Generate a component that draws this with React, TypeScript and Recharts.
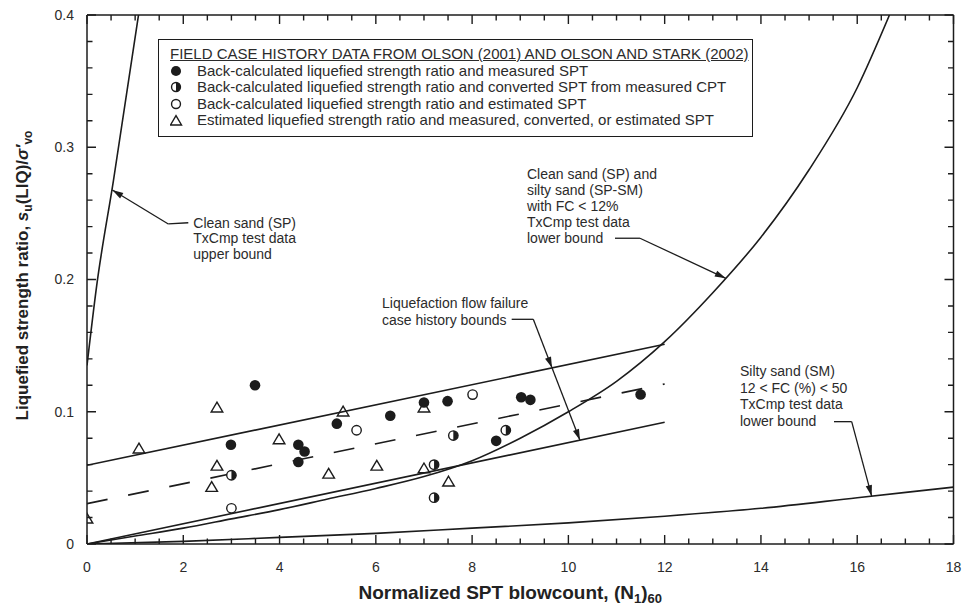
import React from "react";
import {
  ComposedChart,
  Line,
  Scatter,
  XAxis,
  YAxis,
  ReferenceLine,
  ReferenceDot,
  Legend,
} from "recharts";

const FONT = "'Liberation Sans', Arial, Helvetica, sans-serif";
const INK = "#1c1c1c";
const TEXT = "#2b2b2b";

// axis ticks
const xTicks = [0, 0.5, 1, 1.5, 2, 2.5, 3, 3.5, 4, 4.5, 5, 5.5, 6, 6.5, 7, 7.5, 8, 8.5, 9, 9.5, 10, 10.5, 11, 11.5, 12, 12.5, 13, 13.5, 14, 14.5, 15, 15.5, 16, 16.5, 17, 17.5, 18];
const xTickLabels = [0, 2, 4, 6, 8, 10, 12, 14, 16, 18];
const yTicks = [0, 0.02, 0.04, 0.06, 0.08, 0.1, 0.12, 0.14, 0.16, 0.18, 0.2, 0.22, 0.24, 0.26, 0.28, 0.3, 0.32, 0.34, 0.36, 0.38, 0.4];
const yTickLabels = [0, 0.1, 0.2, 0.3, 0.4];

// field case histories (Olson 2001, Olson & Stark 2002)
const backCalcMeasuredSpt = [
  { x: 2.99, y: 0.075 }, { x: 3.49, y: 0.12 }, { x: 4.39, y: 0.075 }, { x: 4.52, y: 0.07 },
  { x: 4.39, y: 0.062 }, { x: 5.19, y: 0.091 }, { x: 6.3, y: 0.097 }, { x: 7.0, y: 0.107 },
  { x: 7.49, y: 0.108 }, { x: 8.5, y: 0.078 }, { x: 9.02, y: 0.111 }, { x: 9.21, y: 0.109 },
  { x: 11.5, y: 0.113 },
];
const backCalcConvertedSpt = [
  { x: 3.0, y: 0.052 }, { x: 7.21, y: 0.06 }, { x: 7.21, y: 0.035 }, { x: 7.61, y: 0.082 },
  { x: 8.7, y: 0.086 },
];
const backCalcEstimatedSpt = [
  { x: 3.0, y: 0.027 }, { x: 5.6, y: 0.086 }, { x: 8.01, y: 0.113 },
];
const estimatedRatioSpt = [
  { x: 0, y: 0.019 }, { x: 1.08, y: 0.072 }, { x: 2.7, y: 0.103 }, { x: 2.7, y: 0.059 },
  { x: 2.59, y: 0.043 }, { x: 3.99, y: 0.079 }, { x: 5.32, y: 0.1 }, { x: 5.02, y: 0.053 },
  { x: 6.02, y: 0.059 }, { x: 7.0, y: 0.057 }, { x: 7.51, y: 0.047 }, { x: 7.0, y: 0.103 },
];

// bound curves
const txcmpCleanUpper = [
  { x: 0, y: 0.135 }, { x: 0.2, y: 0.195 }, { x: 0.55, y: 0.275 }, { x: 1.07, y: 0.4 },
];
const txcmpCleanLower = [
  { x: 0, y: 0 }, { x: 1, y: 0.006 }, { x: 2, y: 0.012 }, { x: 3, y: 0.019 }, { x: 4, y: 0.026 },
  { x: 5, y: 0.034 }, { x: 6, y: 0.042 }, { x: 7, y: 0.051 }, { x: 8, y: 0.063 }, { x: 9, y: 0.08 },
  { x: 10, y: 0.1 }, { x: 11, y: 0.123 }, { x: 12, y: 0.153 }, { x: 13, y: 0.19 }, { x: 14, y: 0.232 },
  { x: 15, y: 0.283 }, { x: 16, y: 0.345 }, { x: 16.67, y: 0.4 },
];
const txcmpSiltyLower = [
  { x: 0, y: 0 }, { x: 2, y: 0.002 }, { x: 4, y: 0.005 }, { x: 6, y: 0.008 }, { x: 8, y: 0.012 },
  { x: 10, y: 0.016 }, { x: 12, y: 0.021 }, { x: 14, y: 0.027 }, { x: 16, y: 0.035 }, { x: 18, y: 0.043 },
];
const caseHistoryUpper = [{ x: 0, y: 0.0595 }, { x: 12, y: 0.151 }];
const caseHistoryMid = [{ x: 0, y: 0.0305 }, { x: 12, y: 0.121 }];
const caseHistoryLower = [{ x: 0, y: 0 }, { x: 12, y: 0.092 }];

const legendTitle = "FIELD CASE HISTORY DATA FROM OLSON (2001) AND OLSON AND STARK (2002)";
const legendRows = [
  { kind: "filled", text: "Back-calculated liquefied strength ratio and measured SPT" },
  { kind: "half", text: "Back-calculated liquefied strength ratio and converted SPT from measured CPT" },
  { kind: "open", text: "Back-calculated liquefied strength ratio and estimated SPT" },
  { kind: "triangle", text: "Estimated liquefied strength ratio and measured, converted, or estimated SPT" },
];

// callout text, anchored at first line
const notes = [
  { x: 2.208, y: 0.2427, step: 15.5, lines: ["Clean sand (SP)", "TxCmp test data", "upper bound"] },
  { x: 9.14, y: 0.2798, step: 16, lines: ["Clean sand (SP) and", "silty sand (SP-SM)", "with FC < 12%", "TxCmp test data", "lower bound"] },
  { x: 6.128, y: 0.1822, step: 17, lines: ["Liquefaction flow failure", "case history bounds"] },
  { x: 13.565, y: 0.1308, step: 16.7, lines: ["Silty sand (SM)", "12 < FC (%) < 50", "TxCmp test data", "lower bound"] },
];

// leader polylines; heads = indices of points that get an arrowhead
const leaders = [
  { pts: [[2.104, 0.2429], [1.689, 0.242], [0.526, 0.2677]], heads: [2] },
  { pts: [[10.968, 0.2312], [11.487, 0.2312], [13.27, 0.2009]], heads: [2] },
  { pts: [[8.822, 0.1699], [9.271, 0.1699], [9.659, 0.1332], [10.24, 0.0785]], heads: [2, 3] },
  { pts: [[15.517, 0.0925], [15.885, 0.0925], [16.3, 0.0362]], heads: [2] },
];

const MINOR = 5.5;
const MAJOR = 9;
const X_GAP = 17;
const Y_GAP = 13;

function Symbol({ kind, cx, cy, s = 1 }: { kind: string; cx: number; cy: number; s?: number }) {
  if (kind === "filled") return <circle cx={cx} cy={cy} r={5.3 * s} fill={INK} />;
  if (kind === "open")
    return <circle cx={cx} cy={cy} r={4.7 * s} fill="#fff" stroke={INK} strokeWidth={1.4} />;
  if (kind === "half") {
    const r = 4.7 * s;
    return (
      <g>
        <circle cx={cx} cy={cy} r={r} fill="#fff" stroke={INK} strokeWidth={1.4} />
        <path d={`M${cx},${cy - r} A${r},${r} 0 0 1 ${cx},${cy + r} Z`} fill={INK} />
      </g>
    );
  }
  const h = 5.6 * s;
  return (
    <path
      d={`M${cx},${cy - h} L${cx + 5.8 * s},${cy + 4.2 * s} L${cx - 5.8 * s},${cy + 4.2 * s} Z`}
      fill="none"
      stroke={INK}
      strokeWidth={1.4}
    />
  );
}

const shapeFor = (kind: string) => (p: any) => <Symbol kind={kind} cx={p.cx} cy={p.cy} />;

function BottomLabel(p: any) {
  const v = p.payload.value;
  if (!xTickLabels.includes(v)) return <g />;
  return (
    <text x={p.x} y={p.y} dy="0.75em" textAnchor="middle" fontSize={14} fill={TEXT} fontFamily={FONT}>
      {v}
    </text>
  );
}

function LeftLabel(p: any) {
  const v = p.payload.value;
  if (!yTickLabels.includes(v)) return <g />;
  return (
    <text x={p.x} y={p.y} dy="0.35em" textAnchor="end" fontSize={14} fill={TEXT} fontFamily={FONT}>
      {v === 0 ? "0" : String(v)}
    </text>
  );
}

// inward tick marks on both frame edges, drawn at the ends of a full reference line
const vTickShape = (len: number) => (p: any) => {
  const x = Number(p.x1);
  const top = Math.min(Number(p.y1), Number(p.y2));
  const bot = Math.max(Number(p.y1), Number(p.y2));
  return (
    <path d={`M${x},${top} V${top + len} M${x},${bot} V${bot - len}`} stroke={INK} strokeWidth={1.4} fill="none" />
  );
};
const hTickShape = (len: number) => (p: any) => {
  const y = Number(p.y1);
  const left = Math.min(Number(p.x1), Number(p.x2));
  const right = Math.max(Number(p.x1), Number(p.x2));
  return (
    <path d={`M${left},${y} H${left + len} M${right},${y} H${right - len}`} stroke={INK} strokeWidth={1.4} fill="none" />
  );
};

const arrowShape = (head: boolean) => (p: any) => {
  const { x1, y1, x2, y2 } = p;
  const a = Math.atan2(y2 - y1, x2 - x1);
  const len = 11;
  const w = 3.2;
  const bx = x2 - len * Math.cos(a);
  const by = y2 - len * Math.sin(a);
  const sx = w * Math.sin(a);
  const sy = w * Math.cos(a);
  return (
    <g>
      <line x1={x1} y1={y1} x2={x2} y2={y2} stroke={INK} strokeWidth={1.3} />
      {head && <path d={`M${x2},${y2} L${bx + sx},${by - sy} L${bx - sx},${by + sy} Z`} fill={INK} />}
    </g>
  );
};

const noteShape = (n: (typeof notes)[number]) => (p: any) => (
  <text x={p.cx} y={p.cy} fontSize={14} fill={TEXT} fontFamily={FONT}>
    {n.lines.map((l, i) => (
      <tspan key={i} x={p.cx} dy={i === 0 ? "0.35em" : n.step}>
        {l}
      </tspan>
    ))}
  </text>
);

function XTitle(p: any) {
  const { x, y, width } = p.viewBox;
  return (
    <text x={x + width / 2 - 10} y={y + 55} textAnchor="middle" fontSize={19} fontWeight="bold" fill="#222" fontFamily={FONT}>
      Normalized SPT blowcount, (N
      <tspan dy={4} fontSize={13}>1</tspan>
      <tspan dy={-4}>)</tspan>
      <tspan dy={4} fontSize={13}>60</tspan>
    </text>
  );
}

function YTitle(p: any) {
  const { x, y, height } = p.viewBox;
  const cx = x + 22;
  const cy = y + height / 2 - 4;
  return (
    <text
      x={cx}
      y={cy}
      dy="0.35em"
      transform={`rotate(-90, ${cx}, ${cy})`}
      textAnchor="middle"
      fontSize={17}
      fontWeight="bold"
      fill="#222"
      fontFamily={FONT}
    >
      Liquefied strength ratio, <tspan fontStyle="italic">s</tspan>
      <tspan dy={4} fontSize={12}>u</tspan>
      <tspan dy={-4}>(LIQ)/</tspan>
      <tspan fontStyle="italic">σ′</tspan>
      <tspan dy={4} fontSize={12}>vo</tspan>
    </text>
  );
}

function LegendBox() {
  return (
    <div
      style={{
        boxSizing: "border-box",
        width: 595,
        height: 98,
        border: `1.5px solid ${INK}`,
        background: "#fff",
        padding: "6px 0 0 11px",
        fontFamily: FONT,
        fontSize: 15,
        lineHeight: "16.6px",
        color: TEXT,
        whiteSpace: "nowrap",
      }}
    >
      <div style={{ textDecoration: "underline" }}>{legendTitle}</div>
      {legendRows.map((r) => (
        <div key={r.kind} style={{ display: "flex", alignItems: "center", height: 16.6 }}>
          <svg width={27} height={14} style={{ flex: "none" }}>
            <Symbol kind={r.kind} cx={6} cy={7} s={0.95} />
          </svg>
          <span>{r.text}</span>
        </div>
      ))}
    </div>
  );
}

const frameLine = { stroke: INK, strokeWidth: 1.5 };

export default function App() {
  return (
    <div style={{ position: "absolute", left: 0, top: 0, width: 966, height: 608, background: "#fff" }}>
      <ComposedChart width={966} height={608} margin={{ top: 14, right: 11.5, bottom: 0, left: 0 }}>
        <XAxis
          type="number"
          dataKey="x"
          domain={[0, 18]}
          ticks={xTicks}
          interval={0}
          allowDataOverflow
          height={64}
          stroke={INK}
          tickSize={0}
          tickMargin={X_GAP}
          tickLine={false}
          tick={BottomLabel}
          axisLine={frameLine}
          label={XTitle}
        />
        <XAxis
          xAxisId="top"
          orientation="top"
          type="number"
          dataKey="x"
          domain={[0, 18]}
          ticks={xTicks}
          height={1}
          stroke={INK}
          tickSize={0}
          tickLine={false}
          tickFormatter={() => ""}
          axisLine={frameLine}
        />
        <YAxis
          type="number"
          dataKey="y"
          domain={[0, 0.4]}
          ticks={yTicks}
          interval={0}
          allowDataOverflow
          width={87}
          stroke={INK}
          tickSize={0}
          tickMargin={Y_GAP}
          tickLine={false}
          tick={LeftLabel}
          axisLine={frameLine}
          label={YTitle}
        />
        <YAxis
          yAxisId="right"
          orientation="right"
          type="number"
          dataKey="y"
          domain={[0, 0.4]}
          ticks={yTicks}
          width={1}
          stroke={INK}
          tickSize={0}
          tickLine={false}
          tickFormatter={() => ""}
          axisLine={frameLine}
        />

        {xTicks.map((v) => (
          <ReferenceLine key={`xt${v}`} x={v} ifOverflow="visible" shape={vTickShape(xTickLabels.includes(v) ? MAJOR : MINOR)} />
        ))}
        {yTicks.map((v) => (
          <ReferenceLine key={`yt${v}`} y={v} ifOverflow="visible" shape={hTickShape(yTickLabels.includes(v) ? MAJOR : MINOR)} />
        ))}

        <Line data={txcmpCleanUpper} dataKey="y" type="monotone" stroke={INK} strokeWidth={1.6} dot={false} activeDot={false} isAnimationActive={false} />
        <Line data={txcmpCleanLower} dataKey="y" type="monotone" stroke={INK} strokeWidth={1.6} dot={false} activeDot={false} isAnimationActive={false} />
        <Line data={txcmpSiltyLower} dataKey="y" type="monotone" stroke={INK} strokeWidth={1.6} dot={false} activeDot={false} isAnimationActive={false} />
        <Line data={caseHistoryUpper} dataKey="y" type="linear" stroke={INK} strokeWidth={1.6} dot={false} activeDot={false} isAnimationActive={false} />
        <Line data={caseHistoryMid} dataKey="y" type="linear" stroke={INK} strokeWidth={1.6} strokeDasharray="21 21" dot={false} activeDot={false} isAnimationActive={false} />
        <Line data={caseHistoryLower} dataKey="y" type="linear" stroke={INK} strokeWidth={1.6} dot={false} activeDot={false} isAnimationActive={false} />

        {leaders.map((ld, li) =>
          ld.pts.slice(1).map((pt, i) => (
            <ReferenceLine
              key={`ld${li}-${i}`}
              segment={[
                { x: ld.pts[i][0], y: ld.pts[i][1] },
                { x: pt[0], y: pt[1] },
              ]}
              shape={arrowShape(ld.heads.includes(i + 1))}
            />
          ))
        )}
        {notes.map((n, i) => (
          <ReferenceDot key={`n${i}`} x={n.x} y={n.y} shape={noteShape(n)} />
        ))}

        <Scatter data={estimatedRatioSpt} dataKey="y" shape={shapeFor("triangle")} isAnimationActive={false} />
        <Scatter data={backCalcEstimatedSpt} dataKey="y" shape={shapeFor("open")} isAnimationActive={false} />
        <Scatter data={backCalcConvertedSpt} dataKey="y" shape={shapeFor("half")} isAnimationActive={false} />
        <Scatter data={backCalcMeasuredSpt} dataKey="y" shape={shapeFor("filled")} isAnimationActive={false} />

        <Legend
          verticalAlign="middle"
          align="center"
          layout="horizontal"
          wrapperStyle={{ left: 158, top: 39, width: 595, height: 98 }}
          content={() => <LegendBox />}
        />
      </ComposedChart>
    </div>
  );
}
